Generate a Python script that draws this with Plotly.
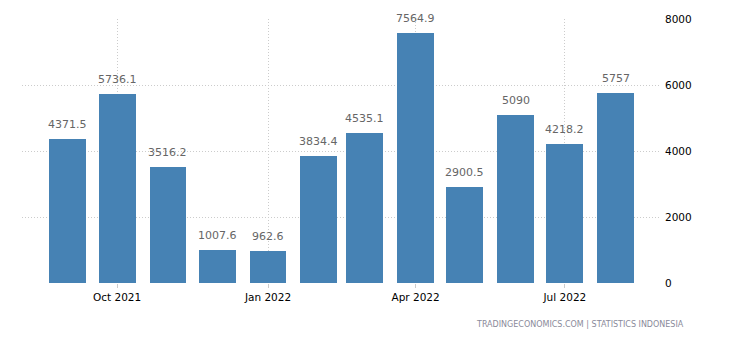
import plotly.graph_objects as go

# Monthly values, Sep 2021 - Aug 2022
months = ["2021-09-01", "2021-10-01", "2021-11-01", "2021-12-01", "2022-01-01", "2022-02-01",
          "2022-03-01", "2022-04-01", "2022-05-01", "2022-06-01", "2022-07-01", "2022-08-01"]
values = [4371.5, 5736.1, 3516.2, 1007.6, 962.6, 3834.4, 4535.1, 7564.9, 2900.5, 5090, 4218.2, 5757]
value_labels = ["4371.5", "5736.1", "3516.2", "1007.6", "962.6", "3834.4",
                "4535.1", "7564.9", "2900.5", "5090", "4218.2", "5757"]
x_tickvals = ["2021-10-01", "2022-01-01", "2022-04-01", "2022-07-01"]
x_ticktext = ["Oct 2021", "Jan 2022", "Apr 2022", "Jul 2022"]
y_tickvals = [0, 2000, 4000, 6000, 8000]

DAY_MS = 86400000
FONT = "DejaVu Sans"

fig = go.Figure()
fig.add_trace(go.Bar(
    x=months, y=values,
    marker=dict(color="#4682B4", line=dict(width=0)),
    width=[22.5 * DAY_MS] * len(months),
    hoverinfo="skip",
))

for m, v, t in zip(months, values, value_labels):
    fig.add_annotation(
        x=m, y=v, text=t, showarrow=False,
        xanchor="center", yanchor="bottom", yshift=6,
        font=dict(family=FONT, size=11, color="#666666"),
    )

fig.add_annotation(
    xref="paper", yref="paper", x=1.04, y=-0.158,
    text="TRADINGECONOMICS.COM | STATISTICS INDONESIA",
    showarrow=False, xanchor="right", yanchor="middle",
    font=dict(family=FONT, size=8, color="#8a8a9a"),
)

grid = dict(showgrid=True, gridcolor="#cccccc", griddash="1px,2px", gridwidth=1)

fig.update_layout(
    width=730, height=340,
    margin=dict(l=22, r=70, t=19, b=57),
    paper_bgcolor="white", plot_bgcolor="white",
    showlegend=False,
    bargap=0,
    xaxis=dict(
        type="date",
        range=["2021-08-04", "2022-08-28"],
        tickmode="array", tickvals=x_tickvals, ticktext=x_ticktext,
        ticks="outside", ticklen=4, tickcolor="#cccccc",
        tickfont=dict(family=FONT, size=10.5, color="#000000"),
        showline=False, zeroline=False,
        **grid,
    ),
    yaxis=dict(
        side="right",
        range=[0, 8000],
        tickmode="array", tickvals=y_tickvals,
        ticks="", ticklabelstandoff=4,
        tickfont=dict(family=FONT, size=10.5, color="#000000"),
        showline=False, zeroline=False,
        **grid,
    ),
)

fig.write_html("out.html")
